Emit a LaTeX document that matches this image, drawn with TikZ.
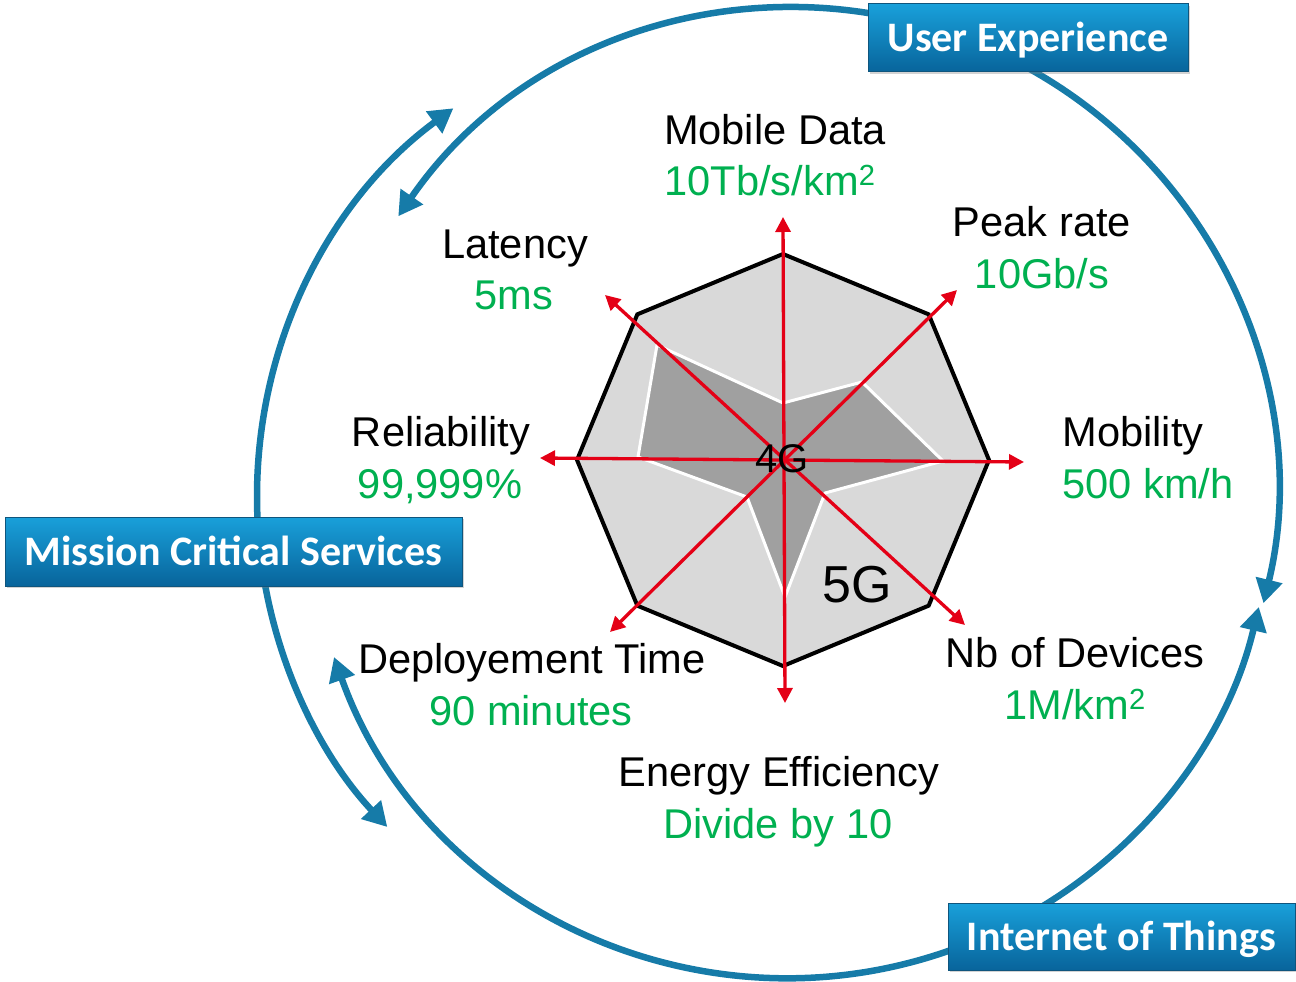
\documentclass[tikz,border=0pt]{standalone}
\usepackage{fontspec}
\setmainfont{Liberation Sans}[Ligatures={NoCommon}]
\newfontfamily\boxfont{Carlito}
\usetikzlibrary{arrows.meta,shadows}
\definecolor{arcblue}{RGB}{22,123,168}
\definecolor{valgreen}{RGB}{0,176,80}
\definecolor{axred}{RGB}{228,0,22}
\definecolor{octfill}{RGB}{217,217,217}
\definecolor{innerfill}{RGB}{160,160,160}
\definecolor{boxtop}{RGB}{25,160,218}
\definecolor{boxbot}{RGB}{8,100,155}
\definecolor{boxedge}{RGB}{15,85,125}
\begin{document}
\begin{tikzpicture}[x=1pt,y=-1pt,
  cyclearc/.style={draw=arcblue, line width=6.5pt,
    {Triangle[length=24pt,width=26pt]}-{Triangle[length=24pt,width=26pt]}},
  axisarrow/.style={draw=axred, line width=3.3pt,
    {Triangle[length=15pt,width=15pt]}-{Triangle[length=15pt,width=15pt]}},
  theme/.style={rectangle, draw=boxedge, line width=1pt, top color=boxtop,
    bottom color=boxbot, text=white,
    font=\boxfont\bfseries\fontsize{42}{42}\selectfont,
    text height=27pt, text depth=0pt, inner sep=0pt,
    drop shadow={shadow xshift=2pt, shadow yshift=-2pt, opacity=0.35}},
  metric/.style={anchor=base, font=\fontsize{41.6}{44}\selectfont, inner sep=0pt},
  target/.style={metric, text=valgreen},
]
\useasboundingbox (0,0) rectangle (1296,982);

% cycle arcs
\draw[cyclearc] ([shift={(-145.4:482)}]795,490) arc[start angle=-145.4, end angle=13.6, radius=482];
\draw[cyclearc] ([shift={(-126.4:483)}]740,497) arc[start angle=-126.4, end angle=-223.1, radius=483];
\draw[cyclearc] ([shift={(160.4:483)}]789,495) arc[start angle=160.4, end angle=13.4, radius=483];

% theme boxes
\node[theme, minimum width=320pt, minimum height=68pt] (ux) at (1028,38) {User Experience};
\node[theme, minimum width=457pt, minimum height=69pt] (mcs) at (233.5,551.5) {Mission Critical Services};
\node[theme, minimum width=347pt, minimum height=67pt] (iot) at (1121.5,936.5) {Internet of Things};

% radar
\coordinate (c) at (783,460);
\fill[octfill, shift={(783,460)}] (0:206) -- (45:206) -- (90:206) -- (135:206) -- (180:206)
  -- (225:206) -- (270:206) -- (315:206) -- cycle;
\filldraw[fill=innerfill, draw=white, line width=3pt, line join=round]
  (783,403) -- (862,382) -- (943,461) -- (825,493) -- (785,597) -- (747,497) -- (638,457) -- (657,345) -- cycle;
\draw[black, line width=4pt, line join=miter, shift={(783,460)}] (0:206) -- (45:206) -- (90:206) -- (135:206) -- (180:206)
  -- (225:206) -- (270:206) -- (315:206) -- cycle;

\coordinate (axN) at (783,217);
\coordinate (axS) at (785,703);
\coordinate (axW) at (540,458);
\coordinate (axE) at (1024,462);
\coordinate (axNW) at (605,295);
\coordinate (axSE) at (965,625);
\coordinate (axNE) at (957,290);
\coordinate (axSW) at (610,632);
\draw[axisarrow] (axS) -- (axN);
\draw[axisarrow] (axW) -- (axE);
\draw[axisarrow] (axSE) -- (axNW);
\draw[axisarrow] (axSW) -- (axNE);

\node[font=\fontsize{40}{40}\selectfont, inner sep=0pt] (g4) at (782,459) {4G};
\node[font=\fontsize{52}{52}\selectfont, inner sep=0pt] (g5) at (857,585) {5G};

% labels
\node[metric] (mobdata) at (775,144) {Mobile Data};
\node[target] (mobdataval) at (770,195) {10Tb/s/km\textsuperscript{2}};
\node[metric] (peak) at (1042,236) {Peak rate};
\node[target] (peakval) at (1042,288) {10Gb/s};
\node[metric] (lat) at (515,258) {Latency};
\node[target] (latval) at (514,309) {5ms};
\node[metric] (rel) at (441,446) {Reliability};
\node[target] (relval) at (440,498) {99,999\%};
\node[metric] (mob) at (1133,446) {Mobility};
\node[target] (mobval) at (1148,498) {500 km/h};
\node[metric] (dep) at (532,673) {Deployement Time};
\node[target] (depval) at (531,725) {90 minutes};
\node[metric] (dev) at (1075,667) {Nb of Devices};
\node[target] (devval) at (1075,719) {1M/km\textsuperscript{2}};
\node[metric] (energy) at (779,786) {Energy Efficiency};
\node[target] (energyval) at (778,838) {Divide by 10};
\end{tikzpicture}
\end{document}
